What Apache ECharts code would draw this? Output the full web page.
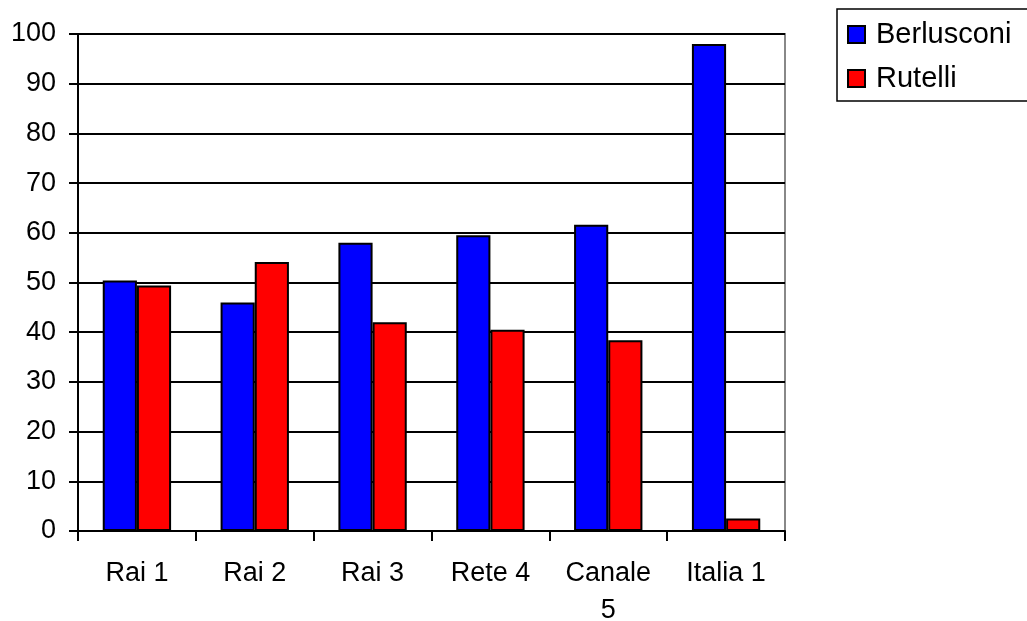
<!DOCTYPE html>
<html>
<head>
<meta charset="utf-8">
<script src="https://cdn.jsdelivr.net/npm/echarts@6/dist/echarts.min.js"></script>
<style>
  html, body { margin: 0; padding: 0; background: #fff; }
  #chart { width: 1027px; height: 621px; }
</style>
</head>
<body>
<div id="chart"></div>
<script>
// canali tv
const channels = ["Rai 1", "Rai 2", "Rai 3", "Rete 4", "Canale 5", "Italia 1"];
// valori
const berlusconi = [50.4, 46, 58, 59.5, 61.6, 98];
const rutelli = [49.4, 54.1, 42, 40.5, 38.4, 2.5];
const yTicks = { min: 0, max: 100, step: 10 };

const chart = echarts.init(document.getElementById("chart"));
const font = "'Liberation Sans', Arial, sans-serif";

const option = {
  backgroundColor: "#fff",
  animation: false,
  textStyle: { fontFamily: font },
  grid: {
    left: 78,
    right: 242,
    top: 34,
    bottom: 90,
    outerBoundsMode: "none",
    containLabel: false,
    show: true,
    borderColor: "#888",
    borderWidth: 2,
  },
  legend: {
    orient: "vertical",
    left: 837,
    top: 9,
    padding: [11, 60, 8, 10],
    itemGap: 15,
    itemWidth: 17,
    itemHeight: 17,
    icon: "rect",
    borderColor: "#000",
    borderWidth: 1.5,
    borderRadius: 0,
    textStyle: { fontSize: 29, color: "#000", fontFamily: font, padding: [0, 0, 0, 6] },
    data: ["Berlusconi", "Rutelli"],
  },
  xAxis: {
    type: "category",
    data: channels,
    axisLine: { lineStyle: { color: "#000", width: 2 } },
    axisTick: { show: true, length: 10, lineStyle: { color: "#000", width: 2 } },
    axisLabel: {
      color: "#000",
      fontSize: 27,
      margin: 24,
      lineHeight: 37,
      interval: 0,
      formatter: (v) => (v === "Canale 5" ? "Canale\n5" : v),
    },
    splitLine: { show: false },
  },
  yAxis: {
    type: "value",
    min: yTicks.min,
    max: yTicks.max,
    interval: yTicks.step,
    axisLine: { show: true, lineStyle: { color: "#000", width: 2 } },
    axisTick: { show: true, length: 9, lineStyle: { color: "#000", width: 2 } },
    axisLabel: { color: "#000", fontSize: 27, margin: 22 },
    splitLine: { lineStyle: { color: "#000", width: 2 } },
  },
  series: [
    {
      name: "Berlusconi",
      type: "bar",
      data: berlusconi,
      barGap: "0%",
      barCategoryGap: "42%",
      itemStyle: { color: "#0000ff", borderColor: "#000", borderWidth: 2 },
    },
    {
      name: "Rutelli",
      type: "bar",
      data: rutelli,
      itemStyle: { color: "#ff0000", borderColor: "#000", borderWidth: 2 },
    },
  ],
};

chart.setOption(option);
</script>
</body>
</html>
